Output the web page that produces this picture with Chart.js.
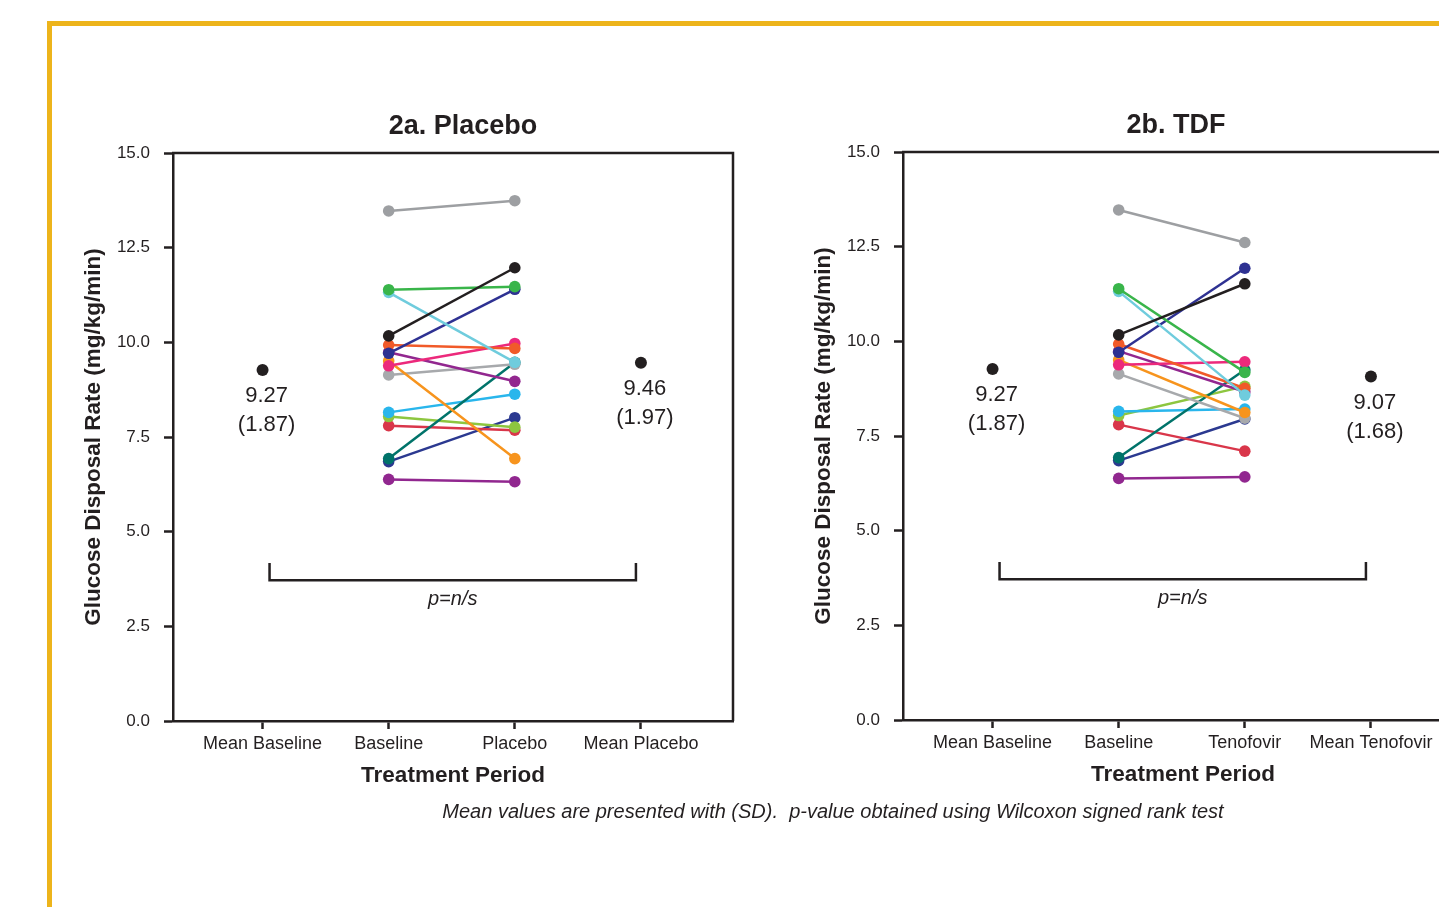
<!DOCTYPE html>
<html>
<head>
<meta charset="utf-8">
<script src="https://cdn.jsdelivr.net/npm/chart.js@4.4.1/dist/chart.umd.min.js"></script>
<style>
    html, body { margin: 0; padding: 0; background: #fff; overflow: hidden; width: 1439px; height: 907px; }
    .frame { position: absolute; left: 47px; top: 21px; width: 1600px; height: 1000px;
             border-top: 5px solid #edb41b; border-left: 5px solid #edb41b; }
    canvas { position: absolute; }
    #placeboChart { left: 60px; top: 100px; }
    #tdfChart { left: 790px; top: 99px; }
    .note { position: absolute; left: 333px; width: 1000px; top: 800px; text-align: center;
            font: italic 20px "Liberation Sans", Arial, sans-serif; color: #231f20; white-space: pre; }
</style>
</head>
<body>
<div class="frame"></div>
<canvas id="placeboChart" width="700" height="720"></canvas>
<canvas id="tdfChart" width="700" height="720"></canvas>
<div class="note">Mean values are presented with (SD).  p-value obtained using Wilcoxon signed rank test</div>

<script>
/* ============================
   Data
============================ */
const placeboTicks = ['Mean Baseline', 'Baseline', 'Placebo', 'Mean Placebo'];
const tdfTicks = ['Mean Baseline', 'Baseline', 'Tenofovir', 'Mean Tenofovir'];

// one value per subject (16 subjects)
const baseline  = [13.47, 10.17, 11.39, 11.32, 9.71, 9.93, 9.38, 9.74, 9.51, 9.14, 6.93, 8.15, 8.04, 7.80, 6.85, 6.38];
const placebo   = [13.74, 11.97, 11.47, 9.47, 11.40, 9.84, 9.97, 8.97, 6.93, 9.42, 9.47, 8.63, 7.76, 7.68, 8.01, 6.32];
const tenofovir = [12.61, 11.52, 9.18, 8.58, 11.93, 8.76, 9.46, 8.67, 8.12, 7.97, 9.25, 8.21, 8.81, 7.10, 7.95, 6.42];

const subjectColors = ['#9d9fa2', '#231f20', '#39b54a', '#6fccdd', '#2e3192', '#f15a29', '#ec297b', '#92278f',
                       '#f7941d', '#a7a9ac', '#00736a', '#29b6ec', '#8dc63f', '#d9364a', '#2b3990', '#91278f'];

const meanBaseline = 9.27, sdBaseline = 1.87;
const meanPlacebo = 9.46, sdPlacebo = 1.97;
const meanTdf = 9.07, sdTdf = 1.68;

const yTicks = [0, 2.5, 5, 7.5, 10, 12.5, 15];

/* ============================
   Style
============================ */
const ink = '#231f20';
const fontFamily = '"Liberation Sans", Arial, Helvetica, sans-serif';

/* ============================
   Box, title, mean labels, bracket
============================ */
const panelDecor = {
    id: 'panelDecor',
    afterDraw(chart, args, opts) {
        const { ctx, chartArea: a, scales: { x, y } } = chart;
        ctx.save();
        ctx.strokeStyle = ink;
        ctx.fillStyle = ink;
        ctx.lineWidth = 2.5;

        // top and right edge of the box
        ctx.beginPath();
        ctx.moveTo(a.left - 1, a.top);
        ctx.lineTo(a.right, a.top);
        ctx.lineTo(a.right, a.bottom);
        ctx.stroke();

        // panel title
        ctx.textAlign = 'center';
        ctx.textBaseline = 'middle';
        ctx.font = 'bold 27px ' + fontFamily;
        ctx.fillText(opts.title, (a.left + a.right) / 2 + opts.titleShift, a.top - 26);

        // mean value + (SD) under each mean point
        ctx.font = '22px ' + fontFamily;
        opts.means.forEach(m => {
            const px = x.getPixelForValue(m.x) + 4;
            const py = y.getPixelForValue(m.value);
            ctx.fillText(m.value.toFixed(2), px, py + 26);
            ctx.fillText('(' + m.sd.toFixed(2) + ')', px, py + 55);
        });

        // significance bracket
        const bx1 = x.getPixelForValue(1) + 7;
        const bx2 = x.getPixelForValue(4) - 5;
        const by = y.getPixelForValue(3.72);
        const byTop = y.getPixelForValue(4.17);
        ctx.lineWidth = 2.5;
        ctx.beginPath();
        ctx.moveTo(bx1, byTop);
        ctx.lineTo(bx1, by);
        ctx.lineTo(bx2, by);
        ctx.lineTo(bx2, byTop);
        ctx.stroke();

        ctx.font = 'italic 20px ' + fontFamily;
        ctx.fillText('p=n/s', (bx1 + bx2) / 2, by + 19);
        ctx.restore();
    }
};

/* ============================
   Build one panel
============================ */
function buildPanel(canvasId, tickLabels, after, meanAfter, sdAfter, title, titleShift) {
    const datasets = baseline.map((b, i) => ({
        data: [{ x: 2, y: b }, { x: 3, y: after[i] }],
        borderColor: subjectColors[i],
        backgroundColor: subjectColors[i],
        borderWidth: 2.5,
        pointRadius: 5.8,
        pointBorderWidth: 0,
        pointHoverRadius: 5.8
    }));

    datasets.push({
        data: [{ x: 1, y: meanBaseline }, { x: 4, y: meanAfter }],
        showLine: false,
        backgroundColor: ink,
        borderColor: ink,
        pointRadius: 6,
        pointBorderWidth: 0
    });

    new Chart(document.getElementById(canvasId), {
        type: 'line',
        data: { datasets: datasets },
        plugins: [panelDecor],
        options: {
            responsive: false,
            animation: false,
            devicePixelRatio: 1,
            layout: { padding: { top: 53, right: 27, left: 0, bottom: 0 } },
            plugins: {
                legend: { display: false },
                tooltip: { enabled: false },
                panelDecor: {
                    title: title,
                    titleShift: titleShift,
                    means: [
                        { x: 1, value: meanBaseline, sd: sdBaseline },
                        { x: 4, value: meanAfter, sd: sdAfter }
                    ]
                }
            },
            scales: {
                x: {
                    type: 'linear',
                    min: 0.29,
                    max: 4.73,
                    afterBuildTicks: scale => {
                        scale.ticks = tickLabels.map((t, i) => ({ value: i + 1 }));
                    },
                    afterFit: scale => { scale.height = 99; },
                    ticks: {
                        callback: value => tickLabels[value - 1],
                        color: ink,
                        font: { family: fontFamily, size: 18 },
                        padding: 4,
                        maxRotation: 0,
                        autoSkip: false
                    },
                    grid: {
                        drawOnChartArea: false,
                        drawTicks: true,
                        tickLength: 8,
                        tickWidth: 2.5,
                        tickColor: ink
                    },
                    border: { display: true, color: ink, width: 2.5 },
                    title: {
                        display: true,
                        text: 'Treatment Period',
                        color: ink,
                        font: { family: fontFamily, size: 22.5, weight: 'bold' },
                        padding: { top: 0, bottom: 31 }
                    }
                },
                y: {
                    min: 0,
                    max: 15,
                    afterBuildTicks: scale => {
                        scale.ticks = yTicks.map(v => ({ value: v }));
                    },
                    afterFit: scale => { scale.width = 113; },
                    ticks: {
                        callback: value => value.toFixed(1),
                        color: ink,
                        font: { family: fontFamily, size: 17 },
                        padding: 14
                    },
                    grid: {
                        drawOnChartArea: false,
                        drawTicks: true,
                        tickLength: 9,
                        tickWidth: 2.5,
                        tickColor: ink
                    },
                    border: { display: true, color: ink, width: 2.5 },
                    title: {
                        display: true,
                        text: 'Glucose Disposal Rate (mg/kg/min)',
                        color: ink,
                        font: { family: fontFamily, size: 22.5, weight: 'bold' },
                        padding: { top: 20, bottom: 0 }
                    }
                }
            }
        }
    });
}

buildPanel('placeboChart', placeboTicks, placebo, meanPlacebo, sdPlacebo, '2a. Placebo', 10);
buildPanel('tdfChart', tdfTicks, tenofovir, meanTdf, sdTdf, '2b. TDF', -7);
</script>
</body>
</html>
